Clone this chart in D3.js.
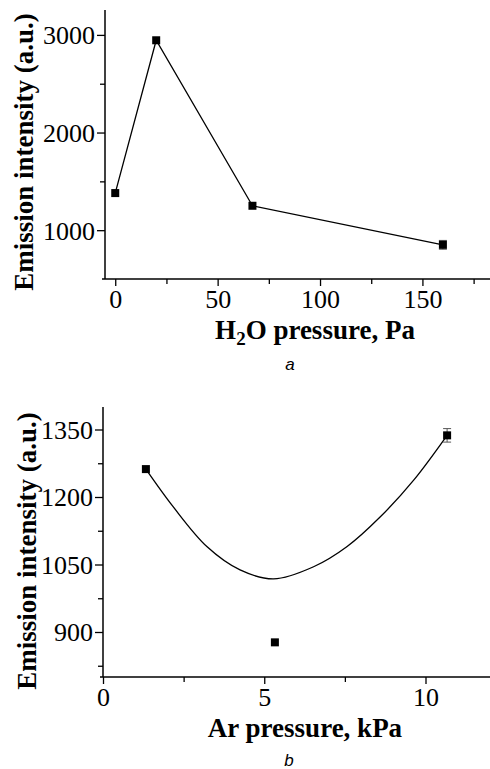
<!DOCTYPE html>
<html lang="en">
<head>
    <meta charset="UTF-8">
    <title>Emission intensity vs pressure</title>
    <script src="https://cdnjs.cloudflare.com/ajax/libs/d3/7.8.5/d3.min.js"></script>
    <style>
        body { margin: 0; padding: 0; background: #fff; }
        svg { display: block; }
    </style>
</head>
<body>
<svg id="chart" width="490" height="769"></svg>
<script>
// panel a: H2O pressure
const h2oPressure = [0, 20, 67, 160];
const h2oIntensity = [1380, 2945, 1250, 850];
const h2oError = [0, 0, 0, 45];
const h2oXTicks = [0, 50, 100, 150];
const h2oYTicks = [1000, 2000, 3000];

// panel b: Ar pressure
const arPressure = [1.33, 5.33, 10.67];
const arIntensity = [1262, 877, 1337];
const arError = [0, 0, 15];
const arXTicks = [0, 5, 10];
const arYTicks = [900, 1050, 1200, 1350];
// fitted curve
const arFitX = [1.33, 2.18, 3.22, 4.25, 5.29, 6.53, 7.57, 8.60, 9.64, 10.67];
const arFitY = [1262, 1178, 1090, 1038, 1018, 1045, 1090, 1156, 1238, 1337];

const SERIF = '"Liberation Serif", "Times New Roman", serif';
const svg = d3.select("#chart");

function drawPanel(opt) {
    const x = d3.scaleLinear().domain(opt.xDomain).range([opt.left, opt.right]);
    const y = d3.scaleLinear().domain(opt.yDomain).range([opt.bottom, opt.top]);
    const g = svg.append("g");

    // axes
    const xAxis = d3.axisBottom(x).tickValues(opt.xTicks).tickSize(7).tickFormat(d3.format("d"));
    const xMinor = d3.axisBottom(x).tickValues(opt.xMinor).tickSize(5).tickFormat("");
    const yAxis = d3.axisLeft(y).tickValues(opt.yTicks).tickSize(8).tickFormat(d3.format("d"));
    const yMinor = d3.axisLeft(y).tickValues(opt.yMinor).tickSize(5).tickFormat("");

    const gx = g.append("g").attr("transform", `translate(0,${opt.bottom})`).call(xAxis);
    const gxm = g.append("g").attr("transform", `translate(0,${opt.bottom})`).call(xMinor);
    const gy = g.append("g").attr("transform", `translate(${opt.left},0)`).call(yAxis);
    const gym = g.append("g").attr("transform", `translate(${opt.left},0)`).call(yMinor);

    gxm.select(".domain").remove();
    gym.select(".domain").remove();
    gx.select(".domain").attr("d", `M${opt.left - 3},0H${opt.right}`);
    gy.select(".domain").attr("d", `M0,${opt.bottom}V${opt.top}`);
    g.selectAll(".domain").attr("stroke", "#000").attr("stroke-width", 1.5);
    g.selectAll(".tick line").attr("stroke", "#000").attr("stroke-width", 1.3);

    [gx, gy].forEach(a => a.selectAll(".tick text")
        .style("font-family", SERIF).style("font-size", "26px").attr("fill", "#000"));
    gx.selectAll(".tick text").attr("y", 11).attr("dy", "0.71em");
    gy.selectAll(".tick text").attr("x", -10).attr("dy", "0.34em");

    // line or fitted curve
    const line = d3.line().x(d => x(d[0])).y(d => y(d[1])).curve(opt.curve);
    g.append("path")
        .datum(opt.lineX.map((v, i) => [v, opt.lineY[i]]))
        .attr("d", line)
        .attr("fill", "none")
        .attr("stroke", "#000")
        .attr("stroke-width", 1.3);

    // error bars
    const pts = opt.px.map((v, i) => ({ x: v, y: opt.py[i], e: opt.pe[i] }));
    const eb = g.selectAll(".err").data(pts.filter(d => d.e > 0)).enter().append("g")
        .attr("stroke", "#555").attr("stroke-width", 1);
    eb.append("line").attr("x1", d => x(d.x)).attr("x2", d => x(d.x))
        .attr("y1", d => y(d.y - d.e)).attr("y2", d => y(d.y + d.e));
    eb.append("line").attr("x1", d => x(d.x) - 4).attr("x2", d => x(d.x) + 4)
        .attr("y1", d => y(d.y + d.e)).attr("y2", d => y(d.y + d.e));
    eb.append("line").attr("x1", d => x(d.x) - 4).attr("x2", d => x(d.x) + 4)
        .attr("y1", d => y(d.y - d.e)).attr("y2", d => y(d.y - d.e));

    // square markers
    g.selectAll(".pt").data(pts).enter().append("rect")
        .attr("x", d => x(d.x) - 4).attr("y", d => y(d.y) - 4)
        .attr("width", 8).attr("height", 8).attr("fill", "#000");

    // axis titles
    g.append("text")
        .style("font-family", SERIF).style("font-size", "27px").style("font-weight", "bold")
        .attr("transform", `translate(${opt.yTitleX},${opt.yTitleY}) rotate(-90)`)
        .attr("text-anchor", "middle")
        .text("Emission intensity (a.u.)");
    const xt = g.append("text")
        .style("font-family", SERIF).style("font-size", "27px").style("font-weight", "bold")
        .attr("x", opt.xTitleX).attr("y", opt.xTitleY).attr("text-anchor", "middle");
    opt.xTitle(xt);

    g.append("text")
        .style("font-family", '"Liberation Sans", Arial, sans-serif')
        .style("font-size", "17px").style("font-style", "italic")
        .attr("x", opt.tagX).attr("y", opt.tagY).attr("text-anchor", "middle")
        .text(opt.tag);
}

drawPanel({
    left: 105, right: 490, top: 10, bottom: 279,
    xDomain: [-5, 183], yDomain: [500, 3255],
    xTicks: h2oXTicks, xMinor: [25, 75, 125, 175],
    yTicks: h2oYTicks, yMinor: [1500, 2500],
    px: h2oPressure, py: h2oIntensity, pe: h2oError,
    lineX: h2oPressure, lineY: h2oIntensity, curve: d3.curveLinear,
    yTitleX: 33, yTitleY: 152,
    xTitleX: 315, xTitleY: 339,
    xTitle: t => {
        t.append("tspan").text("H");
        t.append("tspan").attr("dy", 6).style("font-size", "19px").text("2");
        t.append("tspan").attr("dy", -6).text("O pressure, Pa");
    },
    tag: "a", tagX: 290, tagY: 370
});

drawPanel({
    left: 103, right: 490, top: 407, bottom: 677,
    xDomain: [0, 12], yDomain: [800, 1400],
    xTicks: arXTicks, xMinor: [2.5, 7.5],
    yTicks: arYTicks, yMinor: [825, 975, 1125, 1275],
    px: arPressure, py: arIntensity, pe: arError,
    lineX: arFitX, lineY: arFitY, curve: d3.curveCatmullRom.alpha(0.5),
    yTitleX: 36, yTitleY: 551,
    xTitleX: 305, xTitleY: 737,
    xTitle: t => t.text("Ar pressure, kPa"),
    tag: "b", tagX: 289, tagY: 766
});
</script>
</body>
</html>
